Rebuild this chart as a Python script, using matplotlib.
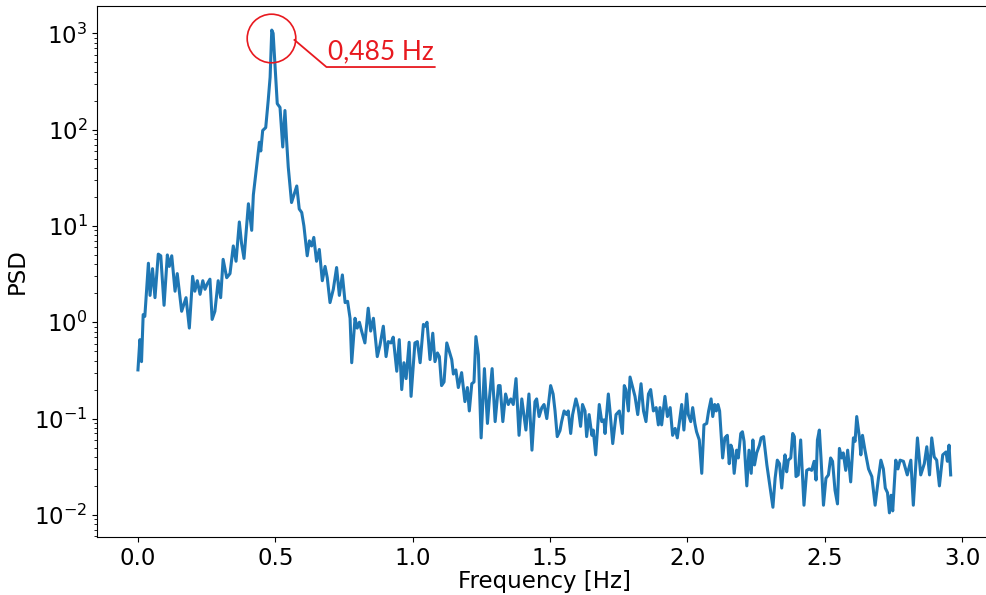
import numpy as np
from matplotlib import pyplot as plt

# frequency [Hz] and PSD
freq = [0.000, 0.007, 0.013, 0.019, 0.025, 0.038, 0.044, 0.053, 0.062, 0.074,
        0.083, 0.095, 0.107, 0.114, 0.123, 0.135, 0.143, 0.159, 0.175, 0.187,
        0.199, 0.207, 0.216, 0.226, 0.236, 0.244, 0.252, 0.262, 0.270, 0.280,
        0.292, 0.301, 0.310, 0.323, 0.335, 0.347, 0.357, 0.369, 0.377, 0.386,
        0.402, 0.414, 0.420, 0.442, 0.447, 0.454, 0.465, 0.474, 0.481, 0.487,
        0.492, 0.499, 0.507, 0.517, 0.527, 0.535, 0.541, 0.547, 0.559, 0.578,
        0.587, 0.596, 0.604, 0.616, 0.624, 0.632, 0.640, 0.650, 0.660, 0.671,
        0.681, 0.689, 0.699, 0.711, 0.723, 0.733, 0.744, 0.754, 0.763, 0.772,
        0.778, 0.790, 0.798, 0.806, 0.814, 0.826, 0.838, 0.847, 0.857, 0.871,
        0.881, 0.893, 0.903, 0.911, 0.921, 0.929, 0.942, 0.951, 0.960, 0.968,
        0.976, 0.987, 0.994, 1.008, 1.017, 1.027, 1.039, 1.047, 1.052, 1.063,
        1.073, 1.081, 1.090, 1.097, 1.105, 1.114, 1.124, 1.133, 1.142, 1.148,
        1.157, 1.166, 1.178, 1.190, 1.199, 1.206, 1.215, 1.223, 1.230, 1.239,
        1.249, 1.261, 1.272, 1.279, 1.289, 1.300, 1.312, 1.318, 1.328, 1.338,
        1.348, 1.357, 1.366, 1.376, 1.387, 1.397, 1.412, 1.423, 1.434, 1.445,
        1.451, 1.460, 1.470, 1.478, 1.488, 1.502, 1.511, 1.518, 1.526, 1.536,
        1.542, 1.551, 1.560, 1.566, 1.575, 1.582, 1.594, 1.602, 1.611, 1.618,
        1.627, 1.633, 1.642, 1.652, 1.657, 1.666, 1.679, 1.688, 1.696, 1.700,
        1.712, 1.718, 1.728, 1.740, 1.752, 1.763, 1.770, 1.776, 1.785, 1.791,
        1.801, 1.809, 1.819, 1.831, 1.840, 1.849, 1.858, 1.866, 1.876, 1.886,
        1.894, 1.900, 1.906, 1.918, 1.927, 1.937, 1.946, 1.955, 1.963, 1.979,
        1.987, 1.997, 2.003, 2.012, 2.019, 2.027, 2.033, 2.043, 2.052, 2.060,
        2.070, 2.077, 2.086, 2.092, 2.099, 2.105, 2.111, 2.117, 2.128, 2.136,
        2.145, 2.152, 2.158, 2.164, 2.170, 2.179, 2.185, 2.194, 2.200, 2.206,
        2.216, 2.224, 2.232, 2.238, 2.244, 2.252, 2.262, 2.268, 2.277, 2.289,
        2.301, 2.311, 2.319, 2.327, 2.335, 2.343, 2.349, 2.355, 2.361, 2.367,
        2.376, 2.383, 2.389, 2.395, 2.403, 2.412, 2.424, 2.434, 2.443, 2.452,
        2.461, 2.468, 2.473, 2.480, 2.486, 2.495, 2.504, 2.513, 2.521, 2.528,
        2.537, 2.546, 2.553, 2.561, 2.567, 2.576, 2.583, 2.594, 2.604, 2.610,
        2.616, 2.626, 2.631, 2.637, 2.646, 2.659, 2.671, 2.683, 2.695, 2.704,
        2.713, 2.720, 2.728, 2.735, 2.741, 2.747, 2.758, 2.766, 2.774, 2.786,
        2.800, 2.813, 2.822, 2.837, 2.849, 2.862, 2.871, 2.881, 2.889, 2.898,
        2.907, 2.917, 2.929, 2.941, 2.946, 2.952, 2.958]

psd = [0.32, 0.66, 0.39, 1.2, 1.15, 4.1, 1.9, 3.6, 1.8, 5.1,
       4.9, 1.5, 5.0, 3.8, 4.9, 2.1, 3.2, 1.3, 1.8, 0.87,
       3.0, 2.1, 2.7, 1.95, 2.7, 2.2, 2.5, 2.8, 1.07, 1.3,
       2.7, 1.8, 4.5, 2.9, 3.2, 6.2, 4.3, 11, 6.6, 4.6,
       17, 9, 21, 74, 60, 98, 105, 200, 350, 1080,
       1000, 450, 186, 170, 66, 158, 77, 41, 17.5, 26,
       15, 13.8, 10, 4.9, 7, 6.2, 7.6, 4.3, 5.7, 2.7,
       3.8, 2.9, 1.6, 2.2, 3.7, 1.9, 3.1, 1.6, 1.65, 1.1,
       0.38, 1.1, 0.87, 1.0, 0.81, 0.61, 1.4, 0.81, 1.1, 0.44,
       0.58, 0.91, 0.44, 0.63, 0.61, 0.7, 0.31, 0.66, 0.2, 0.38,
       0.26, 0.62, 0.17, 0.61, 0.63, 0.38, 0.95, 0.91, 1.0, 0.41,
       0.77, 0.39, 0.48, 0.44, 0.22, 0.24, 0.61, 0.5, 0.41, 0.29,
       0.32, 0.21, 0.3, 0.15, 0.21, 0.12, 0.23, 0.24, 0.71, 0.46,
       0.063, 0.33, 0.089, 0.16, 0.33, 0.093, 0.22, 0.22, 0.093, 0.18,
       0.14, 0.16, 0.14, 0.26, 0.067, 0.16, 0.076, 0.18, 0.047, 0.15,
       0.16, 0.105, 0.13, 0.14, 0.1, 0.22, 0.18, 0.12, 0.065, 0.075,
       0.093, 0.12, 0.11, 0.12, 0.07, 0.11, 0.16, 0.13, 0.083, 0.14,
       0.12, 0.065, 0.11, 0.067, 0.076, 0.042, 0.14, 0.093, 0.097, 0.07,
       0.18, 0.12, 0.055, 0.11, 0.12, 0.07, 0.22, 0.2, 0.12, 0.27,
       0.21, 0.17, 0.11, 0.23, 0.12, 0.093, 0.18, 0.2, 0.12, 0.13,
       0.086, 0.13, 0.086, 0.17, 0.105, 0.13, 0.067, 0.079, 0.063, 0.14,
       0.076, 0.18, 0.11, 0.093, 0.13, 0.089, 0.073, 0.06, 0.027, 0.086,
       0.089, 0.12, 0.16, 0.105, 0.14, 0.12, 0.14, 0.12, 0.039, 0.063,
       0.067, 0.034, 0.053, 0.047, 0.027, 0.047, 0.039, 0.07, 0.073, 0.058,
       0.02, 0.047, 0.027, 0.06, 0.033, 0.044, 0.053, 0.063, 0.065, 0.033,
       0.019, 0.012, 0.024, 0.037, 0.034, 0.019, 0.03, 0.042, 0.028, 0.037,
       0.039, 0.07, 0.065, 0.025, 0.026, 0.06, 0.0126, 0.029, 0.03, 0.029,
       0.036, 0.023, 0.06, 0.076, 0.039, 0.0126, 0.024, 0.026, 0.039, 0.036,
       0.018, 0.013, 0.049, 0.039, 0.044, 0.029, 0.047, 0.022, 0.063, 0.058,
       0.105, 0.063, 0.042, 0.067, 0.047, 0.03, 0.025, 0.0126, 0.024, 0.037,
       0.03, 0.019, 0.017, 0.0105, 0.016, 0.011, 0.037, 0.03, 0.037, 0.036,
       0.026, 0.037, 0.0126, 0.063, 0.026, 0.034, 0.051, 0.026, 0.063, 0.04,
       0.037, 0.02, 0.042, 0.045, 0.036, 0.053, 0.026]

peak_f = 0.485
peak_label = "0,485 Hz"
red = "#e8191f"

fig = plt.figure(figsize=(9.86, 5.95), dpi=100)
# right spine falls just outside the saved picture, as in the original
ax = fig.add_axes([0.0987, 0.0975, 0.9067, 0.8925])

ax.plot(freq, psd, color="#1f77b4", lw=2.2)
ax.set_yscale("log")
ax.set_xlabel("Frequency [Hz]", fontsize=16.5, labelpad=0)
ax.set_ylabel("PSD", fontsize=16.5)
ax.tick_params(labelsize=16.5)

# red circle round the peak and label with leader line
ax.plot(peak_f, 890, "o", ms=35, mfc="none", mec=red, mew=1.2)
ax.plot([0.2205, 0.2563, 0.3774], [0.936, 0.885, 0.885],
        color=red, lw=1.3, transform=ax.transAxes)
ax.text(0.2575, 0.891, peak_label, color=red, fontsize=19,
        family=["Lato", "DejaVu Sans"],
        transform=ax.transAxes, ha="left", va="bottom")

plt.savefig("out.png")
